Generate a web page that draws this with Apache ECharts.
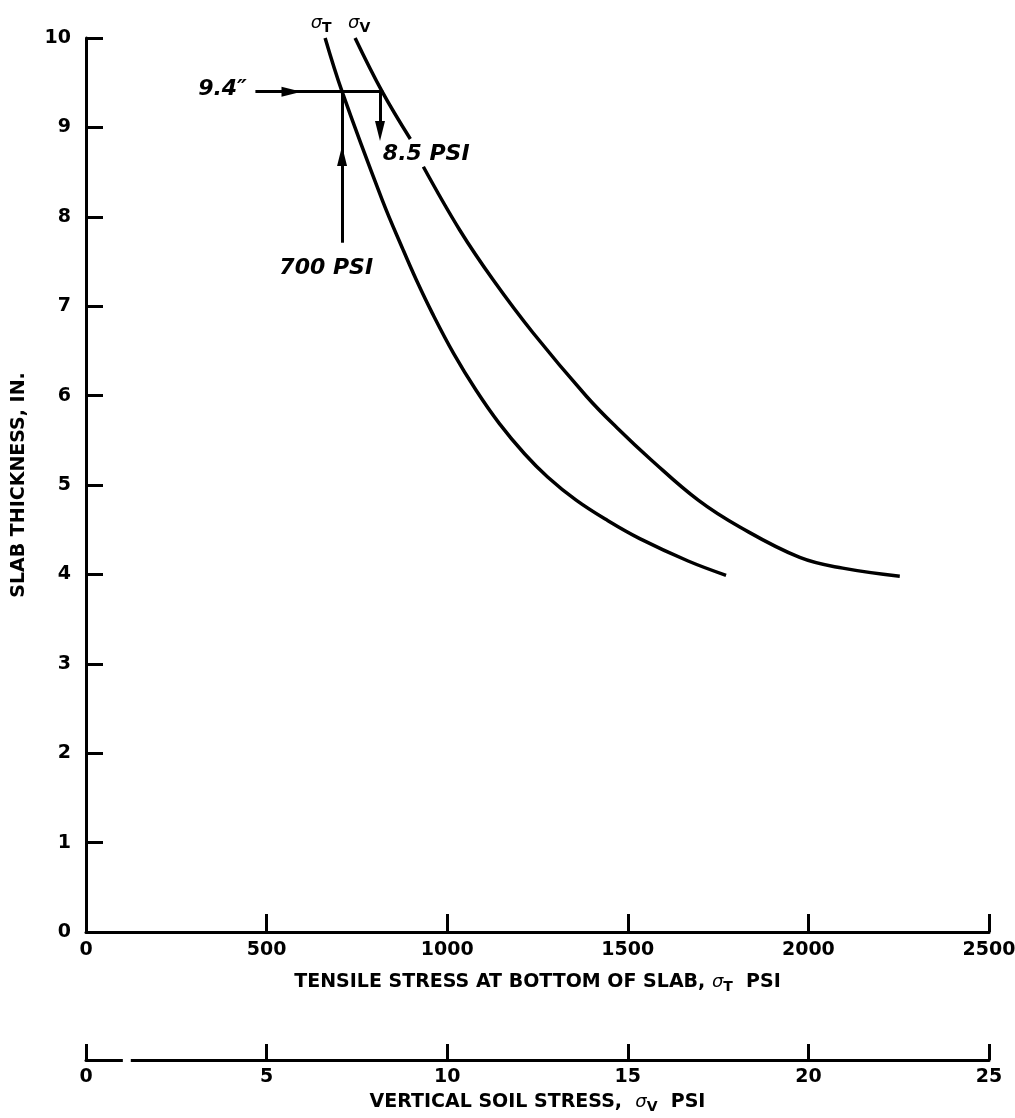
<!DOCTYPE html>
<html>
<head>
<meta charset="utf-8">
<script src="https://cdn.jsdelivr.net/npm/echarts@6/dist/echarts.min.js"></script>
<style>
  html, body { margin: 0; padding: 0; background: #ffffff; }
  #chart { width: 1015px; height: 1118px; }
</style>
</head>
<body>
<div id="chart"></div>
<script>
// ---- data ----
// sigma_T curve: [tensile stress (psi), slab thickness (in)]
const sigmaT = [
  [662, 10.0], [709, 9.40], [820, 8.19], [878, 7.63], [915, 7.29], [959, 6.92],
  [1018, 6.47], [1080, 6.06], [1144, 5.69], [1214, 5.35], [1278, 5.09],
  [1357, 4.83], [1445, 4.60], [1533, 4.40], [1667, 4.15], [1772, 3.99]
];
// sigma_V curve: [vertical soil stress (psi), slab thickness (in)] (gap where "8.5 PSI" crosses it)
const sigmaV = [
  [7.45, 10.0], [8.20, 9.40], [8.98, 8.87], null, [9.34, 8.56], [10.35, 7.85],
  [11.28, 7.29], [12.38, 6.70], [13.86, 5.99], [14.70, 5.64], [15.65, 5.28],
  [16.95, 4.83], [18.10, 4.53], [19.76, 4.19], [20.95, 4.07], [22.53, 3.98]
];
// axis ranges / ticks
const yTicks = { min: 0, max: 10, interval: 1 };
const xTTicks = { min: 0, max: 2500, interval: 500 };
const xVTicks = { min: 0, max: 25, interval: 5 };
// worked example (reading lines), in tensile-stress units / soil-stress units
const readThickness = 9.4;
const readLeftX = 469;      // start of the horizontal reading line
const readArrowX = 569;     // horizontal arrow head
const readRightX = 823;     // reaches sigma_V curve
const upLineX = 709;        // vertical line up to sigma_T curve
const upLineBottom = 7.71;
const upArrowY = 8.68;
const downLineV = 8.14;     // soil stress of downward arrow
const downArrowY = 8.96;
// text annotations: [x (tensile psi), y (in), text]
const notes = [
  [378, 9.43, '9.4\u2033'],
  [942, 8.70, '8.5 PSI'],
  [665, 7.42, '700 PSI']
];
// break in the soil-stress axis line
const axis2Gap = [1.02, 1.24];

const FONT = 'DejaVu Sans';
const black = '#000000';

const chart = echarts.init(document.getElementById('chart'), null, { renderer: 'canvas' });

const subRich = {
  s: { fontFamily: FONT, fontStyle: 'italic', fontWeight: 'normal', fontSize: 18, color: black },
  sub: { fontFamily: FONT, fontWeight: 'bold', fontSize: 14, color: black, padding: [10, 0, 0, 0] }
};
const plain = (v) => String(v);

const option = {
  backgroundColor: '#ffffff',
  animation: false,
  grid: { left: 86, right: 26, top: 38, bottom: 186, containLabel: false, outerBoundsMode: 'none' },
  xAxis: [
    {
      type: 'value', gridIndex: 0, position: 'bottom',
      min: xTTicks.min, max: xTTicks.max, interval: xTTicks.interval,
      axisLine: { show: true, onZero: false, lineStyle: { color: black, width: 3 } },
      axisTick: { show: true, inside: true, length: 18, lineStyle: { color: black, width: 3 } },
      splitLine: { show: false },
      axisLabel: { margin: 9, color: black, fontFamily: FONT, fontWeight: 'bold', fontSize: 19, formatter: plain },
      name: 'TENSILE STRESS AT BOTTOM OF SLAB, {s|σ}{sub|T}  PSI',
      nameLocation: 'middle', nameGap: 38,
      nameTextStyle: { color: black, fontFamily: FONT, fontWeight: 'bold', fontSize: 19, rich: subRich }
    },
    {
      type: 'value', gridIndex: 0, position: 'bottom', offset: 128,
      min: xVTicks.min, max: xVTicks.max, interval: xVTicks.interval,
      axisLine: { show: true, onZero: false, lineStyle: { color: black, width: 3 } },
      axisTick: { show: true, inside: true, length: 16, lineStyle: { color: black, width: 3 } },
      splitLine: { show: false },
      axisLabel: { margin: 8, color: black, fontFamily: FONT, fontWeight: 'bold', fontSize: 19, formatter: plain },
      name: 'VERTICAL SOIL STRESS,  {s|σ}{sub|V}  PSI',
      nameLocation: 'middle', nameGap: 30,
      nameTextStyle: { color: black, fontFamily: FONT, fontWeight: 'bold', fontSize: 19, rich: subRich }
    }
  ],
  yAxis: [{
    type: 'value', gridIndex: 0,
    min: yTicks.min, max: yTicks.max, interval: yTicks.interval,
    axisLine: { show: true, onZero: false, lineStyle: { color: black, width: 3 } },
    axisTick: { show: true, inside: true, length: 17, lineStyle: { color: black, width: 3 } },
    splitLine: { show: false },
    axisLabel: { margin: 15, color: black, fontFamily: FONT, fontWeight: 'bold', fontSize: 19, formatter: plain },
    name: 'SLAB THICKNESS, IN.',
    nameLocation: 'middle', nameGap: 57, nameRotate: 90,
    nameTextStyle: { color: black, fontFamily: FONT, fontWeight: 'bold', fontSize: 19 }
  }],
  series: [
    {
      name: 'sigmaT', type: 'line', xAxisIndex: 0, yAxisIndex: 0,
      data: sigmaT.map((p, i) => i === 0 ? {
        value: p,
        label: { show: true, position: 'top', distance: 3, offset: [-4, 0],
          formatter: '{s|σ}{sub|T}', rich: subRich }
      } : p),
      smooth: 0.4, showSymbol: true, symbol: 'circle', symbolSize: 0,
      itemStyle: { color: black },
      lineStyle: { color: black, width: 3.5 },
      z: 5,
      markLine: {
        silent: true, animation: false,
        label: { show: false },
        lineStyle: { color: black, width: 3, type: 'solid' },
        symbolSize: [10, 20],
        data: [
          [{ coord: [readLeftX, readThickness], symbol: 'none' },
           { coord: [readArrowX, readThickness], symbol: 'triangle' }],
          [{ coord: [readArrowX, readThickness], symbol: 'none' },
           { coord: [readRightX, readThickness], symbol: 'none' }],
          [{ coord: [upLineX, upLineBottom], symbol: 'none' },
           { coord: [upLineX, upArrowY], symbol: 'triangle' }],
          [{ coord: [upLineX, upArrowY], symbol: 'none' },
           { coord: [upLineX, readThickness], symbol: 'none' }]
        ]
      }
    },
    {
      name: 'sigmaV', type: 'line', xAxisIndex: 1, yAxisIndex: 0,
      data: sigmaV.map((p, i) => p === null ? '-' : (i === 0 ? {
        value: p,
        label: { show: true, position: 'top', distance: 3, offset: [4, 0],
          formatter: '{s|σ}{sub|V}', rich: subRich }
      } : p)),
      connectNulls: false,
      smooth: 0.4, showSymbol: true, symbol: 'circle', symbolSize: 0,
      itemStyle: { color: black },
      lineStyle: { color: black, width: 3.5 },
      z: 5,
      markLine: {
        silent: true, animation: false,
        label: { show: false },
        lineStyle: { color: black, width: 3, type: 'solid' },
        symbolSize: [10, 20],
        data: [
          [{ coord: [downLineV, readThickness], symbol: 'none' },
           { coord: [downLineV, downArrowY], symbol: 'triangle' }]
        ]
      }
    },
    {
      name: 'notes', type: 'scatter', xAxisIndex: 0, yAxisIndex: 0,
      data: notes,
      symbolSize: 0,
      itemStyle: { color: black },
      label: {
        show: true, position: 'inside',
        formatter: (p) => p.data[2],
        color: black, opacity: 1, fontFamily: FONT, fontStyle: 'italic', fontWeight: 'bold', fontSize: 22
      },
      z: 6
    }
  ]
};

chart.setOption(option);

// white-out the short break in the soil-stress axis line
const gx1 = chart.convertToPixel({ xAxisIndex: 1 }, axis2Gap[0]);
const gx2 = chart.convertToPixel({ xAxisIndex: 1 }, axis2Gap[1]);
const gy = chart.convertToPixel({ yAxisIndex: 0 }, yTicks.min) + 128;
chart.setOption({
  graphic: [{
    type: 'rect', z: 100,
    shape: { x: gx1, y: gy - 4, width: gx2 - gx1, height: 8 },
    style: { fill: '#ffffff' }
  }]
});
</script>
</body>
</html>
